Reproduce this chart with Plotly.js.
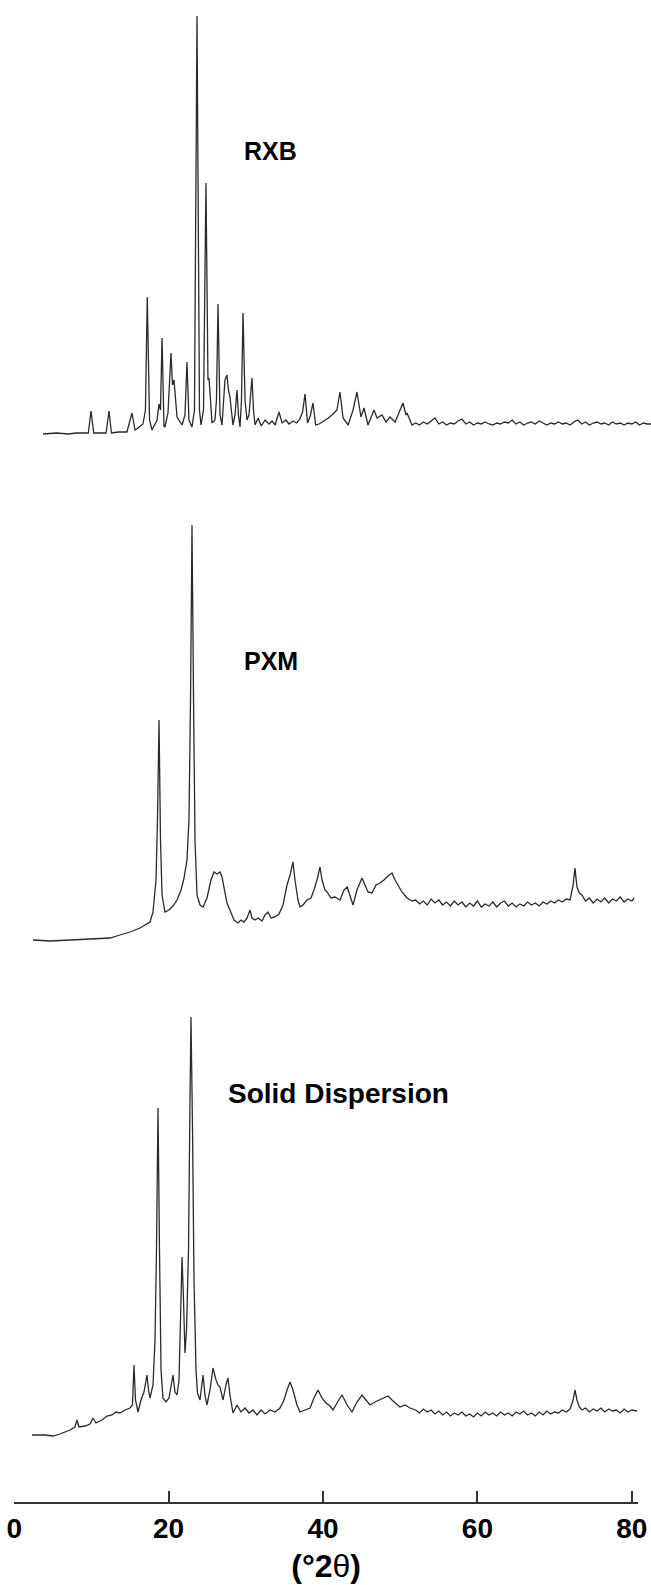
<!DOCTYPE html>
<html>
<head>
<meta charset="utf-8">
<script src="https://cdn.plot.ly/plotly-3.0.1.min.js"></script>
<style>
  html, body { margin: 0; padding: 0; background: #fff; }
  #chart { width: 651px; height: 1585px; }
</style>
</head>
<body>
<div id="chart"></div>
<script>
// ---------------- DATA ----------------
const tickValues = [0, 20, 40, 60, 80];
const tickLabels = ['0', '20', '40', '60', '80'];
const axisTitle = '(°2<span style="font-weight:normal">θ</span>)';
const panelLabels = ['RXB', 'PXM', 'Solid Dispersion'];

// RXB (pure drug)
const rxbTheta = [3.73, 5.5, 7.0, 8.0, 9.0, 9.6, 9.95, 10.3, 11.2, 11.9, 12.28, 12.6, 13.5, 14.6, 15.26, 15.65, 16.04, 16.68, 17.0, 17.24, 17.53, 17.85, 18.5, 18.76, 18.95, 19.15, 19.4, 19.53, 19.92, 20.31, 20.5, 20.7, 21.09, 21.74, 22.12, 22.38, 22.64, 23.03, 23.35, 23.68, 24.0, 24.2, 24.52, 24.84, 25.1, 25.23, 25.43, 25.62, 26.01, 26.2, 26.4, 26.66, 26.92, 27.3, 27.56, 27.75, 27.95, 28.34, 28.6, 28.86, 29.05, 29.25, 29.44, 29.64, 29.9, 30.16, 30.41, 30.8, 31.0, 31.19, 31.6, 32.0, 32.5, 33.0, 33.4, 33.8, 34.3, 34.7, 35.2, 35.6, 36.1, 36.6, 37.0, 37.35, 37.67, 38.0, 38.35, 38.7, 39.05, 39.5, 39.9, 40.3, 40.7, 41.3, 41.8, 42.2, 42.6, 43.26, 43.89, 44.4, 44.92, 45.31, 45.83, 46.61, 47.0, 47.64, 48.16, 48.68, 49.33, 49.72, 50.36, 50.75, 50.88, 51.53, 52.0, 52.5, 53.0, 53.5, 54.0, 54.5, 55.0, 55.5, 56.0, 56.5, 57.0, 57.5, 58.0, 58.5, 59.0, 59.5, 60.0, 60.5, 61.0, 61.5, 62.0, 62.5, 63.0, 63.5, 64.0, 64.5, 65.0, 65.5, 66.0, 66.5, 67.0, 67.5, 68.0, 68.5, 69.0, 69.5, 70.0, 70.5, 71.0, 71.5, 72.0, 72.5, 73.0, 73.5, 74.0, 74.5, 75.0, 75.5, 76.0, 76.5, 77.0, 77.5, 78.0, 78.5, 79.0, 79.5, 80.0, 80.5, 81.0, 81.5, 82.0, 82.5];
const rxbIntensity = [6, 7, 6, 7, 7, 7, 29, 7, 7, 7, 29, 7, 8, 8, 27, 10, 12, 16, 30, 143, 20, 10, 20, 36, 30, 102, 14, 13, 27, 87, 55, 60, 23, 15, 25, 78, 20, 13, 30, 424, 30, 15, 30, 257, 60, 62, 40, 17, 20, 40, 136, 25, 15, 60, 65, 50, 43, 15, 25, 50, 25, 13, 40, 127, 40, 20, 25, 62, 30, 15, 22, 14, 20, 16, 19, 15, 28, 17, 20, 16, 19, 17, 21, 28, 46, 17, 24, 37, 15, 16, 18, 20, 22, 26, 30, 48, 22, 15, 30, 48, 23, 32, 15, 30, 22, 25, 18, 23, 18, 25, 37, 25, 27, 15, 17, 15, 18, 16, 19, 22, 16, 18, 15, 17, 16, 19, 21, 16, 18, 15, 17, 16, 18, 16, 15, 17, 16, 18, 17, 20, 16, 18, 15, 17, 18, 16, 19, 17, 15, 17, 16, 18, 16, 17, 15, 18, 20, 16, 18, 15, 17, 18, 16, 17, 15, 18, 16, 17, 15, 17, 16, 18, 15, 17, 16, 16];

// PXM (carrier)
const pxmTheta = [2.44, 4.64, 7.23, 9.82, 12.41, 13.7, 15.0, 16.3, 17.59, 17.98, 18.37, 18.56, 18.76, 18.95, 19.15, 19.53, 20.05, 20.57, 21.09, 21.61, 22.0, 22.38, 22.64, 22.84, 23.03, 23.23, 23.42, 23.68, 24.07, 24.46, 24.97, 25.49, 25.88, 26.27, 26.66, 26.92, 27.3, 27.56, 27.95, 28.47, 28.99, 29.38, 29.77, 30.16, 30.54, 30.8, 31.19, 31.58, 32.1, 32.49, 32.88, 33.26, 33.78, 34.3, 34.82, 35.34, 35.73, 36.11, 36.37, 36.76, 37.02, 37.41, 37.93, 38.45, 38.83, 39.22, 39.61, 39.87, 40.26, 40.52, 41.04, 41.55, 42.2, 42.72, 43.13, 43.5, 43.89, 44.4, 44.79, 45.05, 45.44, 45.83, 46.35, 46.87, 47.38, 47.9, 48.42, 48.94, 49.33, 49.72, 50.23, 50.88, 51.53, 52.0, 52.5, 53.0, 53.5, 54.0, 54.5, 55.0, 55.5, 56.0, 56.5, 57.0, 57.5, 58.0, 58.5, 59.0, 59.5, 60.0, 60.5, 61.0, 61.5, 62.0, 62.5, 63.0, 63.5, 64.0, 64.5, 65.0, 65.5, 66.0, 66.5, 67.0, 67.5, 68.0, 68.5, 69.0, 69.5, 70.0, 70.5, 71.0, 71.5, 72.0, 72.4, 72.64, 72.9, 73.2, 73.55, 74.0, 74.5, 75.0, 75.5, 76.0, 76.5, 77.0, 77.5, 78.0, 78.5, 79.0, 79.5, 80.0, 80.3];
const pxmIntensity = [5, 4, 5, 6, 7, 10, 13, 17, 23, 33, 65, 125, 225, 105, 50, 33, 35, 39, 45, 55, 67, 85, 125, 245, 420, 245, 105, 50, 40, 38, 47, 65, 73, 71, 73, 68, 50, 42, 35, 25, 22, 25, 23, 27, 35, 27, 25, 27, 24, 30, 33, 27, 28, 31, 40, 60, 70, 83, 65, 45, 38, 40, 45, 47, 55, 65, 78, 65, 55, 53, 47, 48, 45, 55, 58, 48, 40, 55, 63, 67, 60, 53, 52, 60, 62, 65, 69, 72, 65, 60, 53, 47, 44, 45, 41, 44, 40, 46, 42, 45, 40, 43, 39, 44, 40, 43, 38, 42, 39, 44, 38, 41, 39, 43, 38, 42, 44, 39, 42, 38, 41, 39, 43, 40, 42, 39, 43, 41, 44, 42, 45, 43, 46, 45, 60, 77, 58, 52, 50, 44, 47, 42, 46, 43, 47, 42, 46, 44, 48, 43, 46, 44, 47];

// Solid dispersion
const sdTheta = [2.31, 3.99, 5.03, 5.93, 7.23, 7.88, 8.13, 8.39, 9.18, 9.82, 10.21, 10.6, 11.37, 12.02, 12.67, 13.19, 13.7, 14.35, 15.0, 15.32, 15.52, 15.71, 16.04, 16.42, 16.81, 17.2, 17.4, 17.59, 17.98, 18.24, 18.43, 18.63, 18.82, 19.02, 19.27, 19.66, 20.05, 20.57, 20.83, 21.09, 21.35, 21.54, 21.74, 21.93, 22.12, 22.32, 22.58, 22.77, 22.9, 23.1, 23.29, 23.55, 23.74, 24.07, 24.46, 24.71, 24.97, 25.36, 25.75, 26.14, 26.4, 26.66, 27.05, 27.43, 27.69, 27.95, 28.34, 28.86, 29.38, 29.9, 30.41, 30.93, 31.45, 31.97, 32.49, 33.13, 33.78, 34.43, 34.95, 35.34, 35.73, 36.11, 36.63, 37.02, 37.67, 38.32, 38.83, 39.35, 39.87, 40.39, 40.91, 41.29, 41.81, 42.46, 43.13, 43.75, 44.4, 45.05, 45.57, 46.09, 46.74, 47.38, 48.03, 48.42, 48.94, 49.46, 49.97, 50.62, 51.27, 52.0, 52.5, 53.0, 53.5, 54.0, 54.5, 55.0, 55.5, 56.0, 56.5, 57.0, 57.5, 58.0, 58.5, 59.0, 59.5, 60.0, 60.5, 61.0, 61.5, 62.0, 62.5, 63.0, 63.5, 64.0, 64.5, 65.0, 65.5, 66.0, 66.5, 67.0, 67.5, 68.0, 68.5, 69.0, 69.5, 70.0, 70.5, 71.0, 71.5, 72.0, 72.4, 72.64, 72.9, 73.2, 73.55, 74.0, 74.5, 75.0, 75.5, 76.0, 76.5, 77.0, 77.5, 78.0, 78.5, 79.0, 79.5, 80.0, 80.67];
const sdIntensity = [5, 5, 4, 6, 10, 13, 20, 13, 14, 16, 22, 17, 20, 24, 25, 28, 27, 30, 32, 35, 75, 40, 28, 40, 48, 65, 50, 42, 55, 100, 190, 332, 190, 70, 42, 38, 42, 65, 48, 45, 60, 120, 183, 140, 87, 110, 190, 340, 423, 310, 160, 70, 47, 40, 65, 45, 35, 50, 72, 60, 55, 53, 40, 55, 62, 45, 27, 35, 28, 32, 27, 30, 25, 30, 26, 30, 28, 32, 40, 50, 58, 50, 35, 28, 30, 32, 42, 50, 42, 37, 34, 30, 37, 45, 35, 28, 38, 45, 40, 35, 38, 40, 42, 44, 40, 36, 33, 35, 32, 30, 27, 31, 28, 30, 26, 29, 25, 28, 24, 27, 25, 28, 24, 26, 23, 27, 24, 28, 25, 27, 24, 28, 25, 27, 24, 28, 26, 29, 25, 27, 24, 28, 25, 29, 26, 28, 27, 30, 28, 31, 40, 50, 40, 33, 30, 32, 28, 31, 29, 32, 28, 31, 29, 30, 27, 31, 28, 30, 29];

// ---------------- LAYOUT GEOMETRY ----------------
const W = 651, H = 1585;
const pxPerDeg = 7.72, zeroPx = 14.2;       // x mapping of the drawn axis
// panels: [top px, bottom px, baseline px used as intensity origin]
const panels = [[0, 470, 440], [470, 960, 945], [960, 1502, 1440]];
const labelPos = [[242, 151], [242, 661], [226, 1093]];
const labelSize = [25, 25, 28];

function yDomain(p) { return [1 - p[1] / H, 1 - p[0] / H]; }
function yRange(p) { return [p[2] - p[1], p[2] - p[0]]; }

const lineStyle = { color: '#2a2a2a', width: 1.3 };
const traces = [
  { x: rxbTheta, y: rxbIntensity, xaxis: 'x2', yaxis: 'y', type: 'scatter', mode: 'lines', line: lineStyle, name: panelLabels[0] },
  { x: pxmTheta, y: pxmIntensity, xaxis: 'x', yaxis: 'y2', type: 'scatter', mode: 'lines', line: lineStyle, name: panelLabels[1] },
  { x: sdTheta, y: sdIntensity, xaxis: 'x', yaxis: 'y3', type: 'scatter', mode: 'lines', line: lineStyle, name: panelLabels[2] }
];

const font = { family: 'Liberation Sans, Arial, sans-serif', color: '#000', weight: 'bold' };
const hiddenY = { showgrid: false, zeroline: false, showline: false, showticklabels: false, ticks: '', fixedrange: true };

const layout = {
  width: W, height: H,
  margin: { l: 0, r: 0, t: 0, b: 0, pad: 0 },
  paper_bgcolor: '#fff', plot_bgcolor: '#fff',
  showlegend: false,
  xaxis: {
    domain: [zeroPx / W, 638 / W],
    range: [0, (638 - zeroPx) / pxPerDeg],
    anchor: 'y3',
    showline: true, linecolor: '#333', linewidth: 2,
    ticks: 'inside', ticklen: 11, tickwidth: 2, tickcolor: '#333',
    tickmode: 'array', tickvals: tickValues, ticktext: tickLabels,
    tickfont: Object.assign({ size: 28 }, font),
    showgrid: false, zeroline: false,
    title: { text: axisTitle, font: Object.assign({ size: 32 }, font), standoff: 12 }
  },
  xaxis2: {
    domain: [0, 1],
    range: [-zeroPx / pxPerDeg, (W - zeroPx) / pxPerDeg],
    anchor: 'y', visible: false, showgrid: false, zeroline: false
  },
  yaxis: Object.assign({ domain: yDomain(panels[0]), range: yRange(panels[0]), anchor: 'x2' }, hiddenY),
  yaxis2: Object.assign({ domain: yDomain(panels[1]), range: yRange(panels[1]), anchor: 'x' }, hiddenY),
  yaxis3: Object.assign({ domain: yDomain(panels[2]), range: yRange(panels[2]), anchor: 'x' }, hiddenY),
  annotations: panelLabels.map((t, i) => ({
    text: t, xref: 'paper', yref: 'paper',
    x: labelPos[i][0] / W, y: 1 - labelPos[i][1] / H,
    xanchor: 'left', yanchor: 'middle', showarrow: false,
    font: Object.assign({ size: labelSize[i] }, font)
  }))
};

Plotly.newPlot('chart', traces, layout, { staticPlot: true, displayModeBar: false });
</script>
</body>
</html>
